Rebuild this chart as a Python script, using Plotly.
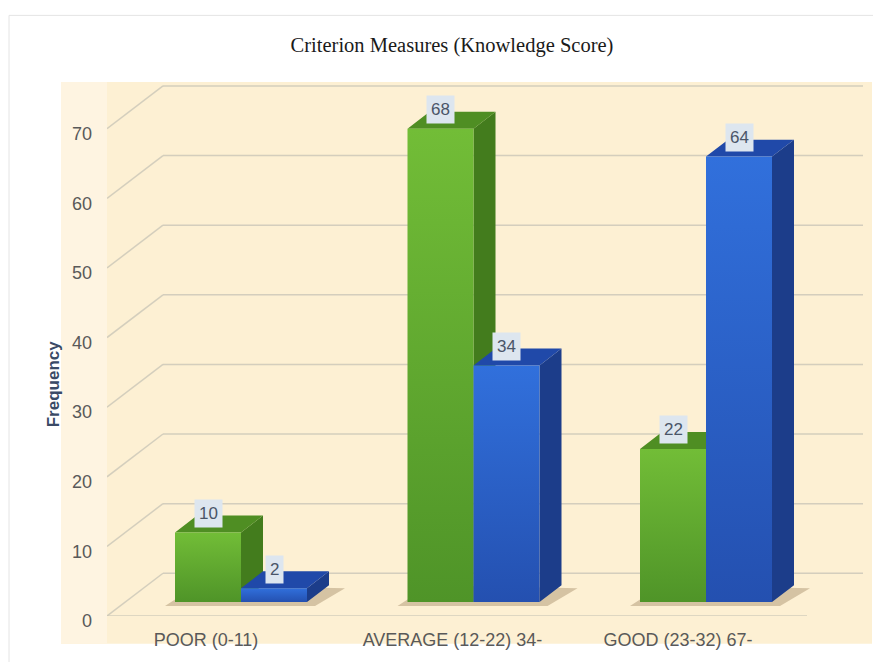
import plotly.graph_objects as go

# ---- data -------------------------------------------------------------
CATEGORIES = ['POOR (0-11)', 'AVERAGE (12-22) 34-', 'GOOD (23-32) 67-']
GREEN_VALUES = [10, 68, 22]
BLUE_VALUES = [2, 34, 64]
Y_TICKS = [0, 10, 20, 30, 40, 50, 60, 70]
TITLE = 'Criterion Measures (Knowledge Score)'
Y_TITLE = 'Frequency'

# ---- look -------------------------------------------------------------
GREEN = dict(front_lo='#4f9428', front_hi='#72bd37', side='#437c1d', top='#4f8e23')
BLUE = dict(front_lo='#2450b0', front_hi='#3170dc', side='#1c3d8a', top='#2049a9')
BEIGE = '#fdf0d3'
BEIGE_LIGHT = '#fef4e1'
GRID = 'rgba(205,200,185,0.85)'
TICK_CLR = '#595959'
LABEL_BG = '#dde6ef'
LABEL_CLR = '#4a5568'
FONT = 'Arial, Liberation Sans, sans-serif'

# page body has an 8px margin: the figure is drawn from (8, 8)
OFF = 8
W, H = 881, 662                    # screenshot size
FIG_W, FIG_H = W - OFF, H - OFF
L, R, T, B = 107, 863, 80, 619     # plot area in screenshot pixels
PX_X = 232.5                       # pixels per category step
PX_Y = 7.0                         # pixels per frequency unit
ORIGIN = 223                       # pixel of category 0 on the front edge
X0 = (L - ORIGIN) / PX_X
X1 = (R - ORIGIN) / PX_X
Y1 = (B - T) / PX_Y
LABEL_NUDGE = [-7, 7, 0]           # px nudges of category labels

WALL_DX, WALL_DY = 56, 43          # depth of the 3D box (px)
FRONT_DX, FRONT_DY = 18, 14        # bars stand a bit behind the front edge
BAR_W = 66
DEPTH_DX, DEPTH_DY = 22, 17        # depth of each bar


def ux(px):
    return px / PX_X


def uy(px):
    return px / PX_Y


def px_paper_x(px):
    return (px - L) / (R - L)


def px_paper_y(py):
    return (B - py) / (B - T)


def quad(pts):
    xs = [p[0] for p in pts] + [pts[0][0], None]
    ys = [p[1] for p in pts] + [pts[0][1], None]
    return xs, ys


fig = go.Figure()

base = uy(FRONT_DY)

# ── soft shadows under each group ──
sx, sy = [], []
for i in range(len(CATEGORIES)):
    xl = i + ux(FRONT_DX - BAR_W)
    xr = i + ux(FRONT_DX + BAR_W)
    xs, ys = quad([(xl - ux(10), base - uy(4)), (xr + ux(8), base - uy(4)),
                   (xr + ux(DEPTH_DX + 16), base + uy(DEPTH_DY - 3)),
                   (xl + ux(DEPTH_DX), base + uy(DEPTH_DY))])
    sx += xs
    sy += ys
fig.add_trace(go.Scatter(x=sx, y=sy, mode='lines', fill='toself',
                         fillcolor='rgba(110,80,40,0.28)', line=dict(width=0),
                         hoverinfo='skip'))

# ── 3D bars: side, top, then front face (green first, blue in front of it) ──
labels = []
for s, (vals, clr) in enumerate([(GREEN_VALUES, GREEN), (BLUE_VALUES, BLUE)]):
    side_x, side_y, top_x, top_y = [], [], [], []
    for i, v in enumerate(vals):
        xl = i + ux(FRONT_DX - BAR_W + s * BAR_W)
        xr = xl + ux(BAR_W)
        ddx, ddy = ux(DEPTH_DX), uy(DEPTH_DY)
        xs, ys = quad([(xr, base), (xr + ddx, base + ddy),
                       (xr + ddx, base + v + ddy), (xr, base + v)])
        side_x += xs
        side_y += ys
        xs, ys = quad([(xl, base + v), (xl + ddx, base + v + ddy),
                       (xr + ddx, base + v + ddy), (xr, base + v)])
        top_x += xs
        top_y += ys
        labels.append((xl + ux(BAR_W) / 2, base + v, v))
    fig.add_trace(go.Scatter(x=side_x, y=side_y, mode='lines', fill='toself',
                             fillcolor=clr['side'], line=dict(width=0), hoverinfo='skip'))
    fig.add_trace(go.Scatter(x=top_x, y=top_y, mode='lines', fill='toself',
                             fillcolor=clr['top'], line=dict(width=0), hoverinfo='skip'))
    for i, v in enumerate(vals):
        xl = i + ux(FRONT_DX - BAR_W + s * BAR_W)
        xr = xl + ux(BAR_W)
        xs, ys = quad([(xl, base), (xr, base), (xr, base + v), (xl, base + v)])
        fig.add_trace(go.Scatter(
            x=xs[:-1], y=ys[:-1], mode='lines', fill='toself',
            fillcolor=clr['front_hi'],
            fillgradient=dict(type='vertical',
                              colorscale=[[0, clr['front_lo']], [1, clr['front_hi']]]),
            line=dict(width=0), hoveron='fills',
            name=f'{CATEGORIES[i]}: {v}'))

# ── value boxes ──
annotations = []
for xc, yc, v in labels:
    annotations.append(dict(
        x=xc, y=yc, xref='x', yref='y', text=str(v), showarrow=False,
        yshift=19, yanchor='middle', xanchor='center',
        bgcolor=LABEL_BG, borderpad=4,
        font=dict(size=17, color=LABEL_CLR, family=FONT)))

annotations.append(dict(
    x=px_paper_x(53), y=px_paper_y(386), xref='paper', yref='paper',
    text=Y_TITLE, textangle=-90, showarrow=False,
    xanchor='center', yanchor='middle',
    font=dict(size=17, color='#3a4a66', family=FONT, weight='bold')))

# ── background, frame and 3D grid ──
shapes = [
    dict(type='rect', xref='paper', yref='paper', layer='below',
         x0=px_paper_x(9), x1=px_paper_x(900), y0=px_paper_y(680), y1=px_paper_y(15),
         line=dict(color='#e4e4e4', width=1), fillcolor='white'),
    dict(type='rect', xref='paper', yref='paper', layer='below',
         x0=px_paper_x(61), x1=px_paper_x(872), y0=px_paper_y(647), y1=px_paper_y(82),
         line=dict(width=0), fillcolor=BEIGE),
    dict(type='rect', xref='paper', yref='paper', layer='below',
         x0=px_paper_x(61), x1=px_paper_x(L), y0=px_paper_y(647), y1=px_paper_y(82),
         line=dict(width=0), fillcolor=BEIGE_LIGHT),
]
wx, wy = ux(WALL_DX), uy(WALL_DY)
for v in Y_TICKS:
    shapes.append(dict(type='line', xref='x', yref='y', layer='below',
                       x0=X0, y0=v, x1=X0 + wx, y1=v + wy,
                       line=dict(color=GRID, width=1.5)))
    shapes.append(dict(type='line', xref='x', yref='y', layer='below',
                       x0=X0 + wx, y0=v + wy, x1=X1, y1=v + wy,
                       line=dict(color=GRID, width=1.5)))
shapes.append(dict(type='line', xref='x', yref='y', layer='below',
                   x0=X0, y0=0, x1=X1 - wx, y1=0,
                   line=dict(color=GRID, width=1.5)))

fig.update_layout(
    width=FIG_W, height=FIG_H,
    paper_bgcolor='white', plot_bgcolor='rgba(0,0,0,0)',
    showlegend=False,
    font=dict(family=FONT, color=TICK_CLR, size=17),
    title=dict(text=TITLE, xref='container', yref='container',
               x=(452 - OFF) / FIG_W, y=1 - (45 - OFF) / FIG_H,
               xanchor='center', yanchor='middle',
               font=dict(family='Liberation Serif, Times New Roman, serif',
                         size=20.5, color='#1a1a1a')),
    xaxis=dict(range=[X0, X1],
               tickvals=[i + ux(n) for i, n in enumerate(LABEL_NUDGE)],
               ticktext=CATEGORIES, ticks='', showgrid=False, zeroline=False,
               showline=False, ticklabelshift=-10, ticklabelstandoff=11,
               tickfont=dict(size=18, color=TICK_CLR), fixedrange=True),
    yaxis=dict(range=[0, Y1], tickvals=Y_TICKS, ticktext=[str(t) for t in Y_TICKS],
               ticks='', showgrid=False, zeroline=False, showline=False,
               ticklabelstandoff=14, ticklabelshift=5,
               tickfont=dict(size=18, color=TICK_CLR), fixedrange=True),
    shapes=shapes,
    annotations=annotations,
    margin=dict(l=L - OFF, r=W - R, t=T - OFF, b=H - B),
    hovermode='closest',
)

fig.write_html('out.html')
